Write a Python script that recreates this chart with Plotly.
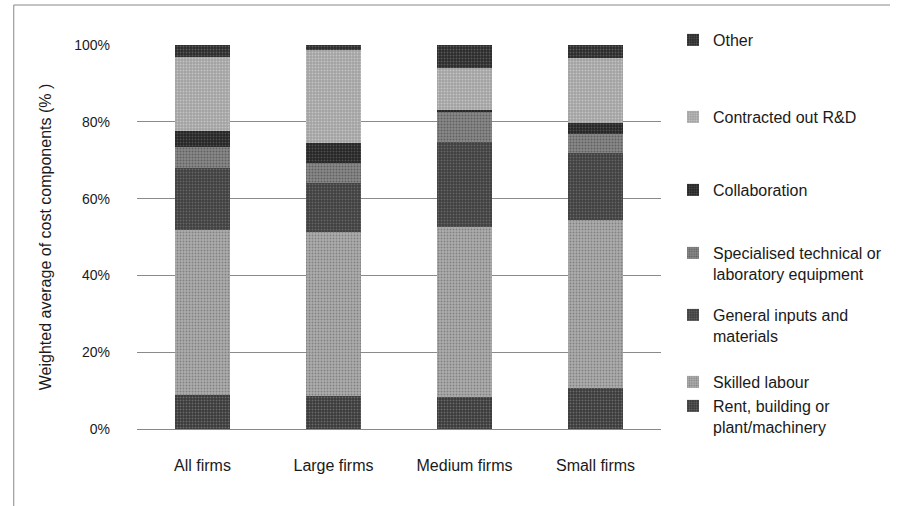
import plotly.graph_objects as go

categories = ["All firms", "Large firms", "Medium firms", "Small firms"]

rent = [8.8, 8.6, 8.4, 10.6]
skilled = [43.0, 42.7, 44.3, 43.8]
general = [16.2, 12.8, 22.0, 17.5]
specialised = [5.5, 5.3, 7.8, 4.9]
collaboration = [4.0, 5.2, 0.7, 2.8]
contracted = [19.3, 24.2, 10.9, 17.1]
other = [3.2, 1.2, 5.9, 3.3]

series_names = [
    "Rent, building or<br>plant/machinery",
    "Skilled labour",
    "General inputs and<br>materials",
    "Specialised technical or<br>laboratory equipment",
    "Collaboration",
    "Contracted out R&D",
    "Other",
]
series_values = [rent, skilled, general, specialised, collaboration, contracted, other]
bg_colors = ["#383838", "#adadad", "#3e3e3e", "#888888", "#242424", "#a0a0a0", "#2a2a2a"]
fg_colors = ["#9a9a9a", "#555555", "#8e8e8e", "#3a3a3a", "#7a7a7a", "#e8e8e8", "#888888"]
# legend item vertical centres (px from top) in the reference
legend_y_px = [406, 382, 315, 253, 190, 117, 40]
legend_valign = ["top", "middle", "top", "top", "middle", "middle", "middle"]

W, H = 914, 506
FONT = "Liberation Sans, Arial, sans-serif"
fig = go.Figure()
layout_legends = {}
for i, (name, vals) in enumerate(zip(series_names, series_values)):
    lname = "legend" if i == 0 else f"legend{i+1}"
    fig.add_trace(go.Bar(
        x=categories, y=vals, name=name,
        marker=dict(color=bg_colors[i], line=dict(width=0),
                    pattern=dict(shape=".", fgcolor=fg_colors[i], bgcolor=bg_colors[i],
                                 size=3, solidity=0.35)),
        legend=lname,
    ))
    layout_legends[lname] = dict(
        xref="container", yref="container",
        x=673 / W, y=1 - (legend_y_px[i] - 17) / H,
        xanchor="left", yanchor="top", valign=legend_valign[i],
        font=dict(family=FONT, size=16, color="#1a1a1a"),
        bgcolor="rgba(0,0,0,0)", borderwidth=0,
    )

fig.update_layout(
    barmode="stack",
    bargap=0.58,
    width=W, height=H,
    margin=dict(l=137, r=W - 677, t=45, b=H - 429),
    plot_bgcolor="white", paper_bgcolor="white",
    font=dict(family=FONT, color="#1a1a1a"),
    xaxis=dict(tickfont=dict(size=16), showgrid=False, showline=True,
               linecolor="#888", linewidth=1, ticks="", ticklabelstandoff=22),
    yaxis=dict(range=[0, 100], tickvals=[0, 20, 40, 60, 80, 100],
               ticktext=["0%", "20%", "40%", "60%", "80%", "100%"],
               tickfont=dict(size=14), showgrid=True, gridcolor="#8a8a8a", gridwidth=1,
               zeroline=False, ticklabelstandoff=26,
               title=dict(text="Weighted average of cost components (% )",
                          font=dict(size=16), standoff=18)),
    showlegend=True,
    **layout_legends,
    shapes=[
        dict(type="line", xref="paper", yref="paper",
             x0=(10 - 137) / 540, x1=(10 - 137) / 540, y0=(429 - 520) / 384, y1=(429 - 5) / 384,
             line=dict(color="#888", width=1)),
        dict(type="line", xref="paper", yref="paper",
             x0=(10 - 137) / 540, x1=(913 - 137) / 540, y0=(429 - 5) / 384, y1=(429 - 5) / 384,
             line=dict(color="#888", width=1)),
    ],
)

fig.write_html("out.html", config={"displayModeBar": False},
               post_script="document.body.style.margin='0';document.body.style.overflow='hidden';"
                           "document.documentElement.style.overflow='hidden';")
